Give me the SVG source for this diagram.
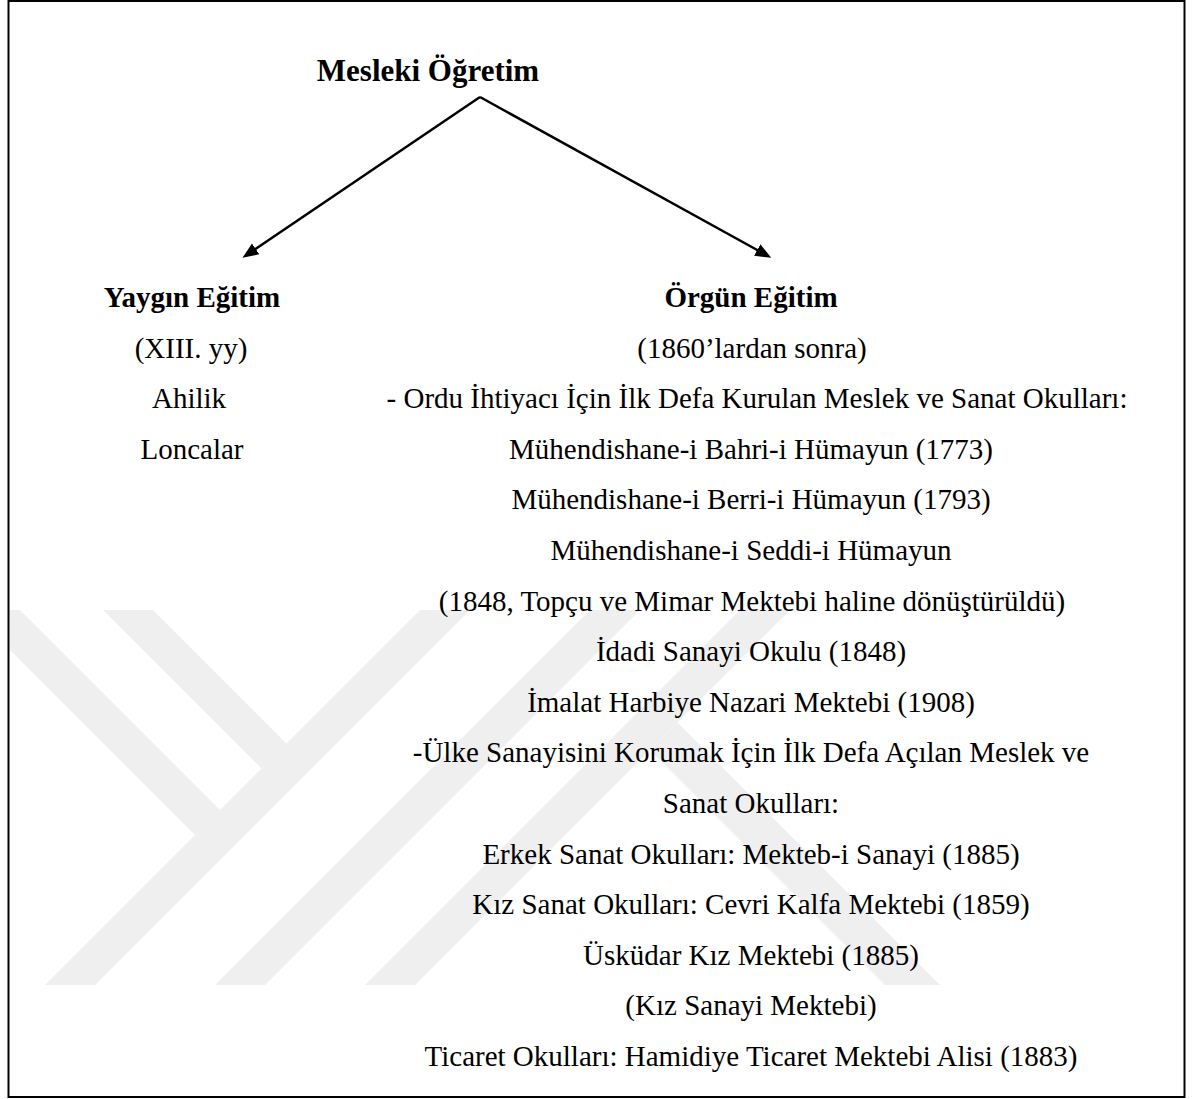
<svg xmlns="http://www.w3.org/2000/svg" width="1201" height="1099" viewBox="0 0 1201 1099">
  <style>
    text { font-family: 'Liberation Serif', 'Times New Roman', serif; font-size: 29px; fill: #000; text-anchor: middle; }
    .b { font-weight: bold; }
    .title { font-weight: bold; font-size: 31px; }
    .conn { stroke: #000; stroke-width: 2.5; fill: none; }
    .wm { fill: #efefef; }
  </style>
  <defs>
    <marker id="arrow" markerUnits="userSpaceOnUse" markerWidth="18" markerHeight="14" refX="2" refY="6.5" orient="auto">
      <path d="M0,0 L16,6.5 L0,13 z" fill="#000"/>
    </marker>
    <clipPath id="wmclip">
      <rect x="9.5" y="610" width="1000" height="375"/>
    </clipPath>
  </defs>
  <rect width="1201" height="1099" fill="#fff"/>
  <g id="watermark" clip-path="url(#wmclip)">
    <polygon class="wm" points="-30,610 20,610 220,810 195,835"/>
    <polygon class="wm" points="103,610 153,610 286.5,743.5 261.5,768.5"/>
    <polygon class="wm" points="420,610 470,610 95,985 45,985"/>
    <polygon class="wm" points="590,610 640,610 265,985 215,985"/>
    <polygon class="wm" points="740,610 790,610 415,985 365,985"/>
    <polygon class="wm" points="677.5,722.5 940,985 885,985 650,750"/>
  </g>
  <rect id="frame" x="8.5" y="1" width="1176" height="1096" fill="none" stroke="#000" stroke-width="2"/>
  <g id="connectors">
    <line class="conn" x1="480" y1="97" x2="254" y2="250" marker-end="url(#arrow)"/>
    <line class="conn" x1="480" y1="97" x2="759" y2="251" marker-end="url(#arrow)"/>
  </g>
  <g id="node-mesleki">
    <text class="title" x="428" y="81">Mesleki Öğretim</text>
  </g>
  <g id="node-yaygin">
    <text class="b" x="192" y="307">Yaygın Eğitim</text>
    <text x="191" y="357.6">(XIII. yy)</text>
    <text x="189" y="408.2">Ahilik</text>
    <text x="192" y="458.8">Loncalar</text>
  </g>
  <g id="node-orgun">
    <text class="b" x="751" y="307">Örgün Eğitim</text>
    <text x="752" y="357.6">(1860’lardan sonra)</text>
    <text x="757" y="408.2">- Ordu İhtiyacı İçin İlk Defa Kurulan Meslek ve Sanat Okulları:</text>
    <text x="751" y="458.8">Mühendishane-i Bahri-i Hümayun (1773)</text>
    <text x="751" y="509.4">Mühendishane-i Berri-i Hümayun (1793)</text>
    <text x="751" y="560">Mühendishane-i Seddi-i Hümayun</text>
    <text x="752" y="610.6">(1848, Topçu ve Mimar Mektebi haline dönüştürüldü)</text>
    <text x="751" y="661.2">İdadi Sanayi Okulu (1848)</text>
    <text x="751" y="711.8">İmalat Harbiye Nazari Mektebi (1908)</text>
    <text x="751" y="762.4">-Ülke Sanayisini Korumak İçin İlk Defa Açılan Meslek ve</text>
    <text x="751" y="813">Sanat Okulları:</text>
    <text x="751" y="863.6">Erkek Sanat Okulları: Mekteb-i Sanayi (1885)</text>
    <text x="751" y="914.2">Kız Sanat Okulları: Cevri Kalfa Mektebi (1859)</text>
    <text x="751" y="964.8">Üsküdar Kız Mektebi (1885)</text>
    <text x="751" y="1015.4">(Kız Sanayi Mektebi)</text>
    <text x="751" y="1066">Ticaret Okulları: Hamidiye Ticaret Mektebi Alisi (1883)</text>
  </g>
</svg>
